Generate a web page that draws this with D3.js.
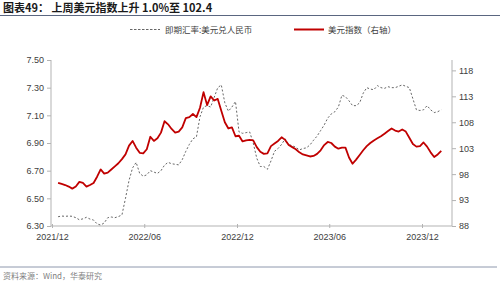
<!DOCTYPE html>
<html>
<head>
<meta charset="utf-8">
<script src="https://cdn.jsdelivr.net/npm/d3@7/dist/d3.min.js"></script>
<style>
body { margin: 0; background: #fff; }
svg text { font-family: "Liberation Sans", "Noto Sans CJK SC", sans-serif; }
.cjk { font-family: "Noto Sans CJK SC", sans-serif; }
</style>
</head>
<body>
<svg id="chart" width="500" height="282"></svg>
<script>
// 周度数据，起点 2021-12-13
var startDate = new Date(2021, 11, 13);
// 美元指数（右轴）
var dxyValues = [
	96.3, 96.1, 95.9, 95.6, 95.2, 95.6, 96.5, 96.3, 95.6, 95.9,
	96.3, 97.5, 98.9, 98.1, 98.3, 98.9, 99.5, 100.1, 100.9, 101.8,
	103.5, 104.4, 103.1, 102.1, 102.0, 102.8, 105.2, 104.4, 104.9, 106.0,
	108.2, 107.6, 106.7, 106.0, 106.2, 107.0, 108.8, 109.0, 109.6, 109.0,
	110.8, 113.8, 111.3, 113.0, 112.2, 112.5, 110.2, 108.0, 106.8, 107.0,
	105.3, 105.4, 104.3, 104.5, 104.6, 104.5, 103.2, 102.3, 101.9, 102.0,
	103.4, 103.9, 104.4, 105.1, 104.6, 103.6, 103.2, 102.8, 102.2, 101.8,
	101.6, 101.4, 101.5, 101.9, 102.6, 103.6, 104.2, 104.0, 103.3, 102.9,
	103.1, 103.1, 101.2, 100.0, 100.8, 101.7, 102.6, 103.4, 104.0, 104.5,
	104.9, 105.3, 105.8, 106.3, 106.8, 106.4, 106.2, 106.6, 106.2, 105.0,
	103.8, 103.3, 103.4, 104.1, 103.3, 102.2, 101.3, 101.8, 102.5
];
// 即期汇率:美元兑人民币（左轴）
var cnyValues = [
	6.367, 6.372, 6.370, 6.372, 6.370, 6.360, 6.345, 6.352, 6.363, 6.350,
	6.343, 6.315, 6.307, 6.322, 6.360, 6.365, 6.360, 6.368, 6.380, 6.500,
	6.630, 6.720, 6.760, 6.680, 6.660, 6.670, 6.700, 6.690, 6.680, 6.700,
	6.740, 6.760, 6.750, 6.746, 6.742, 6.780, 6.840, 6.890, 6.930, 6.945,
	7.090, 7.160, 7.170, 7.160, 7.230, 7.300, 7.320, 7.190, 7.130, 7.160,
	7.200, 6.980, 6.970, 6.975, 6.980, 6.900, 6.790, 6.730, 6.730, 6.710,
	6.770, 6.840, 6.860, 6.890, 6.930, 6.890, 6.880, 6.870, 6.850, 6.860,
	6.865, 6.886, 6.920, 6.950, 6.990, 7.030, 7.080, 7.110, 7.126, 7.160,
	7.245, 7.235, 7.205, 7.170, 7.170, 7.190, 7.260, 7.300, 7.290, 7.285,
	7.315, 7.300, 7.295, 7.307, 7.300, 7.300, 7.310, 7.320, 7.310, 7.300,
	7.220, 7.140, 7.135, 7.140, 7.170, 7.140, 7.120, 7.126, 7.140
];
var xTickLabels = ["2021/12", "2022/06", "2022/12", "2023/06", "2023/12"];
var xTickDates = [new Date(2021, 11, 1), new Date(2022, 5, 1), new Date(2022, 11, 1), new Date(2023, 5, 1), new Date(2023, 11, 1)];
var leftTicks = [6.30, 6.50, 6.70, 6.90, 7.10, 7.30, 7.50];
var rightTicks = [88, 93, 98, 103, 108, 113, 118];

var dates = dxyValues.map(function (d, i) {
	return d3.timeDay.offset(startDate, 7 * i);
});

var svg = d3.select("#chart");
var plotLeft = 51, plotRight = 452, plotTop = 60, plotBottom = 226;

var x = d3.scaleTime()
	.domain([new Date(2021, 11, 1), new Date(2023, 11, 1)])
	.range([52, 422]);
var yL = d3.scaleLinear().domain([6.30, 7.50]).range([plotBottom, plotTop]);
var yR = d3.scaleLinear().domain([88, 120]).range([plotBottom, plotTop]);

// 标题
svg.append("text")
	.attr("class", "cjk")
	.attr("x", 3).attr("y", 12)
	.attr("font-size", 11).attr("font-weight", "bold")
	.attr("fill", "#1a1a1a")
	.text("图表49：  上周美元指数上升 1.0%至 102.4");
svg.append("line")
	.attr("x1", 0).attr("x2", 500).attr("y1", 15.5).attr("y2", 15.5)
	.attr("stroke", "#5a6680").attr("stroke-width", 1);

// 图例
svg.append("line")
	.attr("x1", 130).attr("x2", 160).attr("y1", 29.5).attr("y2", 29.5)
	.attr("stroke", "#666").attr("stroke-width", 1)
	.attr("stroke-dasharray", "2.5,1.5");
svg.append("text")
	.attr("class", "cjk")
	.attr("x", 165).attr("y", 32.5)
	.attr("font-size", 8.5).attr("fill", "#404040")
	.text("即期汇率:美元兑人民币");
svg.append("line")
	.attr("x1", 294).attr("x2", 324).attr("y1", 29.5).attr("y2", 29.5)
	.attr("stroke", "#c00000").attr("stroke-width", 2);
svg.append("text")
	.attr("class", "cjk")
	.attr("x", 328).attr("y", 32.5)
	.attr("font-size", 8.5).attr("fill", "#404040")
	.text("美元指数（右轴）");

// 坐标轴
var axisColor = "#b3b3b3";
var gL = svg.append("g").attr("transform", "translate(" + plotLeft + ",0)")
	.call(d3.axisLeft(yL).tickValues(leftTicks).tickSize(4).tickFormat(d3.format(".2f")));
var gR = svg.append("g").attr("transform", "translate(" + plotRight + ",0)")
	.call(d3.axisRight(yR).tickValues(rightTicks).tickSize(4).tickFormat(d3.format("d")));
var gX = svg.append("g").attr("transform", "translate(0," + plotBottom + ")")
	.call(d3.axisBottom(x).tickValues(xTickDates).tickSize(3)
		.tickFormat(function (d, i) { return xTickLabels[i]; }));

[gL, gR, gX].forEach(function (g) {
	g.selectAll("path, line").attr("stroke", axisColor);
	g.selectAll("text").attr("font-size", 9).attr("fill", "#404040")
		.attr("font-family", "Liberation Sans, sans-serif");
});
gL.select("path").attr("d", "M0," + plotTop + "V" + plotBottom);
gR.select("path").attr("d", "M0," + plotTop + "V" + plotBottom);
gX.select("path").attr("d", "M" + plotLeft + ",0H" + plotRight);
gX.selectAll(".tick line").attr("y1", -2).attr("y2", 2);
gX.selectAll("text").attr("dy", "0.9em");

// 折线
var lineCny = d3.line()
	.x(function (d, i) { return x(dates[i]); })
	.y(function (d) { return yL(d); });
var lineDxy = d3.line()
	.x(function (d, i) { return x(dates[i]); })
	.y(function (d) { return yR(d); });

svg.append("path")
	.datum(cnyValues)
	.attr("d", lineCny)
	.attr("fill", "none")
	.attr("stroke", "#666")
	.attr("stroke-width", 1)
	.attr("stroke-dasharray", "2,2");

svg.append("path")
	.datum(dxyValues)
	.attr("d", lineDxy)
	.attr("fill", "none")
	.attr("stroke", "#c00000")
	.attr("stroke-width", 1.8)
	.attr("stroke-linejoin", "round");

// 脚注
svg.append("line")
	.attr("x1", 0).attr("x2", 497).attr("y1", 267).attr("y2", 267)
	.attr("stroke", "#8e98ad").attr("stroke-width", 1);
svg.append("text")
	.attr("class", "cjk")
	.attr("x", 3).attr("y", 279)
	.attr("font-size", 8).attr("fill", "#7f7f7f")
	.text("资料来源：Wind，华泰研究");
</script>
</body>
</html>
